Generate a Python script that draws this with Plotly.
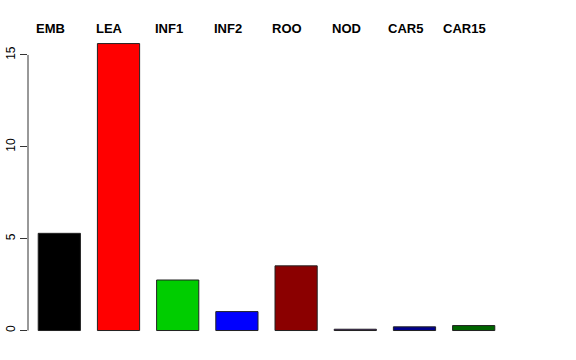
import plotly.graph_objects as go

categories = ["EMB", "LEA", "INF1", "INF2", "ROO", "NOD", "CAR5", "CAR15"]
values = [5.29, 15.62, 2.75, 1.03, 3.52, 0.07, 0.2, 0.27]
colors = ["#000000", "#FF0000", "#00CD00", "#0000FF", "#8B0000", "#551A8B", "#00008B", "#006400"]
y_ticks = [0, 5, 10, 15]

FONT = "Liberation Sans, Arial, Helvetica, sans-serif"
xpos = list(range(len(categories)))

fig = go.Figure()
fig.add_trace(go.Bar(
    x=xpos, y=values, width=0.713,
    marker=dict(color=colors, line=dict(color="#222222", width=1)),
    hoverinfo="skip", showlegend=False,
))

for i, c in enumerate(categories):
    fig.add_annotation(
        x=i, y=1, xref="x", yref="paper", text="<b>%s</b>" % c,
        showarrow=False, xanchor="center", yanchor="middle", yshift=4, xshift=-9,
        font=dict(family=FONT, size=13, color="black"),
    )

# y axis line spanning only the tick range (R style)
fig.add_shape(type="line", xref="paper", yref="y", x0=0, x1=0,
              y0=y_ticks[0], y1=y_ticks[-1], line=dict(color="#333333", width=1))

fig.update_layout(
    width=576, height=360,
    margin=dict(l=28, r=16, t=32, b=18),
    paper_bgcolor="white", plot_bgcolor="white",
    font=dict(family=FONT, size=12, color="black"),
    xaxis=dict(visible=False, range=[-0.529, 8.458]),
    yaxis=dict(range=[-0.625, 16.25], showgrid=False, zeroline=False, showline=False,
               automargin=False,
               tickvals=y_ticks, ticktext=[str(t) for t in y_ticks],
               ticks="outside", ticklen=7, tickcolor="#333333", tickwidth=1,
               tickangle=-90, tickfont=dict(family=FONT, size=12, color="black")),
)

fig.write_html("out.html")
